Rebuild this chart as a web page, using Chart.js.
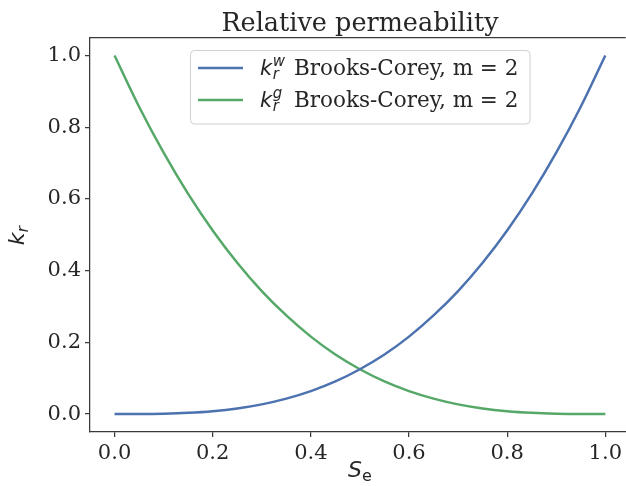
<!DOCTYPE html>
<html>
<head>
<meta charset="utf-8">
<script src="https://cdn.jsdelivr.net/npm/chart.js@4/dist/chart.umd.min.js"></script>
<style>
  html, body { margin: 0; padding: 0; background: #ffffff; }
  canvas { display: block; }
</style>
</head>
<body>
<canvas id="chart" width="626" height="486"></canvas>
<script>
// Effective saturation S_e
const saturation = [0.00, 0.05, 0.10, 0.15, 0.20, 0.25, 0.30, 0.35, 0.40, 0.45, 0.50,
                    0.55, 0.60, 0.65, 0.70, 0.75, 0.80, 0.85, 0.90, 0.95, 1.00];
// Wetting-phase relative permeability k_r^w
const krWater = [0.000, 0.0001, 0.001, 0.0034, 0.008, 0.0156, 0.027, 0.043, 0.064, 0.091, 0.125,
                 0.166, 0.216, 0.275, 0.343, 0.422, 0.512, 0.614, 0.729, 0.857, 1.000];
// Gas-phase relative permeability k_r^g
const krGas = [1.000, 0.857, 0.729, 0.614, 0.512, 0.422, 0.343, 0.275, 0.216, 0.166, 0.125,
               0.091, 0.064, 0.043, 0.027, 0.0156, 0.008, 0.0034, 0.001, 0.0001, 0.000];
const xTicks = [0.0, 0.2, 0.4, 0.6, 0.8, 1.0];
const yTicks = [0.0, 0.2, 0.4, 0.6, 0.8, 1.0];
const seriesNames = ['Brooks-Corey, m = 2', 'Brooks-Corey, m = 2'];
const seriesSup = ['w', 'g'];
const titleText = 'Relative permeability';

const BLUE = '#4c72b0';
const GREEN = '#55a868';
const INK = '#262626';
const SPINE = '#3a3a3a';
const SERIF = '"DejaVu Serif", serif';
const SANS = '"DejaVu Sans", sans-serif';

const toPoints = (xs, ys) => xs.map((x, i) => ({ x: x, y: ys[i] }));

// Draw "k" with subscript r and an optional superscript, returns the end x
function drawKr(ctx, x, baseline, size, sup) {
  ctx.save();
  ctx.fillStyle = INK;
  ctx.textBaseline = 'alphabetic';
  ctx.textAlign = 'left';
  ctx.font = 'italic ' + size + 'px ' + SANS;
  ctx.fillText('k', x, baseline);
  const kw = ctx.measureText('k').width;
  const small = Math.round(size * 0.7);
  ctx.font = 'italic ' + small + 'px ' + SANS;
  ctx.fillText('r', x + kw + 0.5, baseline + size * 0.2);
  let end = x + kw + 0.5 + ctx.measureText('r').width;
  if (sup) {
    ctx.fillText(sup, x + kw + 0.5, baseline - size * 0.42);
    end = Math.max(end, x + kw + 0.5 + ctx.measureText(sup).width);
  }
  ctx.restore();
  return end;
}

const decorations = {
  id: 'decorations',
  afterDraw(chart) {
    const ctx = chart.ctx;
    const a = chart.chartArea;

    // top spine
    ctx.save();
    ctx.strokeStyle = SPINE;
    ctx.lineWidth = 1.25;
    ctx.beginPath();
    ctx.moveTo(a.left, a.top);
    ctx.lineTo(a.right, a.top);
    ctx.stroke();
    ctx.restore();

    // title
    ctx.save();
    ctx.fillStyle = INK;
    ctx.font = '25.5px ' + SERIF;
    ctx.textAlign = 'center';
    ctx.textBaseline = 'alphabetic';
    ctx.fillText(titleText, 360, 31);
    ctx.restore();

    // x axis label: S_e
    ctx.save();
    ctx.fillStyle = INK;
    ctx.textBaseline = 'alphabetic';
    ctx.font = 'italic 22px ' + SANS;
    const sW = ctx.measureText('S').width;
    ctx.font = '16px ' + SANS;
    const eW = ctx.measureText('e').width;
    const sx = 360 - (sW + eW) / 2;
    ctx.font = 'italic 22px ' + SANS;
    ctx.fillText('S', sx, 477);
    ctx.font = '16px ' + SANS;
    ctx.fillText('e', sx + sW, 481);
    ctx.restore();

    // y axis label: k_r (rotated)
    ctx.save();
    ctx.translate(24, 235);
    ctx.rotate(-Math.PI / 2);
    ctx.font = 'italic 22px ' + SANS;
    const kW = ctx.measureText('k').width;
    drawKr(ctx, -(kW + 8) / 2, 0, 22, null);
    ctx.restore();

    // legend
    const lx = 190.5, ly = 50.5, lw = 339.5, lh = 73.5;
    ctx.save();
    ctx.fillStyle = 'rgba(255,255,255,0.8)';
    ctx.strokeStyle = '#d0d0d0';
    ctx.lineWidth = 1;
    ctx.beginPath();
    ctx.roundRect(lx, ly, lw, lh, 4);
    ctx.fill();
    ctx.stroke();
    const colors = [BLUE, GREEN];
    const rows = [68, 100];
    rows.forEach((yy, i) => {
      ctx.strokeStyle = colors[i];
      ctx.lineWidth = 2.5;
      ctx.beginPath();
      ctx.moveTo(198, yy);
      ctx.lineTo(243, yy);
      ctx.stroke();
      drawKr(ctx, 260, yy + 7, 21, seriesSup[i]);
      ctx.fillStyle = INK;
      ctx.font = '21.5px ' + SERIF;
      ctx.textAlign = 'left';
      ctx.textBaseline = 'alphabetic';
      ctx.fillText(seriesNames[i], 294, yy + 7);
    });
    ctx.restore();
  }
};

const tickFont = { family: SERIF, size: 21 };

new Chart(document.getElementById('chart'), {
  type: 'line',
  data: {
    datasets: [
      { label: 'k_r^w ' + seriesNames[0], data: toPoints(saturation, krWater),
        borderColor: BLUE, borderWidth: 2.5, pointRadius: 0, tension: 0.4,
        cubicInterpolationMode: 'monotone', fill: false },
      { label: 'k_r^g ' + seriesNames[1], data: toPoints(saturation, krGas),
        borderColor: GREEN, borderWidth: 2.5, pointRadius: 0, tension: 0.4,
        cubicInterpolationMode: 'monotone', fill: false }
    ]
  },
  options: {
    responsive: false,
    animation: false,
    devicePixelRatio: 1,
    layout: { padding: { top: 37.5, left: 0, right: 0, bottom: 0 } },
    plugins: { legend: { display: false }, title: { display: false }, tooltip: { enabled: false } },
    scales: {
      x: {
        type: 'linear',
        min: -0.05,
        max: 1.0416,
        afterFit: (s) => { s.height = 54; },
        afterBuildTicks: (s) => { s.ticks = xTicks.map(v => ({ value: v })); },
        grid: { display: true, drawOnChartArea: false, drawTicks: true, tickLength: 5,
                color: SPINE, lineWidth: 1.25 },
        border: { display: true, color: SPINE, width: 1.25 },
        ticks: { font: tickFont, color: INK, padding: 4, maxRotation: 0,
                 callback: (v) => Number(v).toFixed(1) }
      },
      y: {
        type: 'linear',
        min: -0.05,
        max: 1.05,
        afterFit: (s) => { s.width = 90; },
        afterBuildTicks: (s) => { s.ticks = yTicks.map(v => ({ value: v })); },
        grid: { display: true, drawOnChartArea: false, drawTicks: true, tickLength: 5,
                color: SPINE, lineWidth: 1.25 },
        border: { display: true, color: SPINE, width: 1.25 },
        ticks: { font: tickFont, color: INK, padding: 4,
                 callback: (v) => Number(v).toFixed(1) }
      }
    }
  },
  plugins: [decorations]
});
</script>
</body>
</html>
